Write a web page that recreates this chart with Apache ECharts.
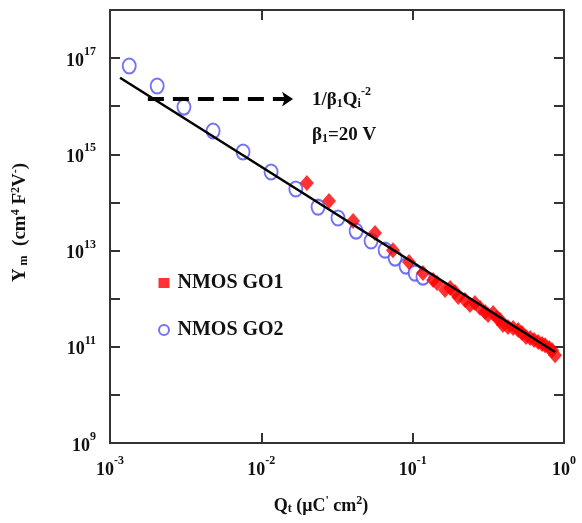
<!DOCTYPE html>
<html><head><meta charset="utf-8">
<script src="https://cdn.jsdelivr.net/npm/echarts@6/dist/echarts.min.js"></script>
<style>html,body{margin:0;padding:0;background:#fff}#c{width:582px;height:523px}</style>
</head><body><div id="c"></div>
<script>
// NMOS GO1 (red diamonds)
const go1Q = [0.0200, 0.0280, 0.0404, 0.0564, 0.0741, 0.0946, 0.117, 0.1365, 0.145, 0.1637, 0.177, 0.1905, 0.200, 0.2218, 0.239, 0.258, 0.279, 0.301, 0.315, 0.340, 0.361, 0.378, 0.395, 0.426, 0.461, 0.498, 0.528, 0.561, 0.597, 0.634, 0.675, 0.716, 0.750, 0.798, 0.834, 0.873];
const go1Y = [2.53e14, 1.07e14, 4.10e13, 2.31e13, 1.02e13, 5.77e12, 3.40e12, 2.44e12, 2.11e12, 1.51e12, 1.66e12, 1.37e12, 1.08e12, 9.35e11, 7.36e11, 8.1e11, 6.38e11, 5.26e11, 4.56e11, 5.02e11, 3.95e11, 3.59e11, 2.83e11, 2.57e11, 2.45e11, 2.22e11, 1.93e11, 1.59e11, 1.52e11, 1.38e11, 1.25e11, 1.14e11, 1.08e11, 9.4e10, 8.5e10, 6.7e10];
// NMOS GO2 (blue open circles)
const go2Q = [1.34e-3, 2.05e-3, 3.08e-3, 4.80e-3, 7.57e-3, 0.0116, 0.0169, 0.0237, 0.0321, 0.0423, 0.0531, 0.0658, 0.0766, 0.0904, 0.1038, 0.117];
const go2Y = [6.85e16, 2.63e16, 9.6e15, 3.05e15, 1.12e15, 4.29e14, 1.90e14, 8.0e13, 4.74e13, 2.54e13, 1.58e13, 1.02e13, 6.98e12, 4.76e12, 3.40e12, 2.81e12];
// fit line 1/(beta1 Qi^2)
const fitQ = [1.165e-3, 0.873];
const fitY = [3.9e16, 7.8e10];
// dashed arrow annotation
const arrowQ = [1.78e-3, 0.0162];
const arrowY = [1.41e16, 1.41e16];
const yLabelExps = [9, 11, 13, 15, 17];
const xLabelExps = [-3, -2, -1, 0];

const F = 'Liberation Serif';
const C = '#111';
const zip = (a, b) => a.map((v, i) => [v, b[i]]);
const supRich = {
  b: {fontSize: 18, fontWeight: 'bold', fontFamily: F, color: C, lineHeight: 24, verticalAlign: 'bottom'},
  s: {fontSize: 12, fontWeight: 'bold', fontFamily: F, color: C, lineHeight: 12, verticalAlign: 'top'}
};
const nameRich = {
  n: {fontSize: 18, fontWeight: 'bold', fontFamily: F, color: C, lineHeight: 20, verticalAlign: 'bottom'},
  sub: {fontSize: 12, fontWeight: 'bold', fontFamily: F, color: C, lineHeight: 15, verticalAlign: 'bottom'},
  sup: {fontSize: 12, fontWeight: 'bold', fontFamily: F, color: C, lineHeight: 15, verticalAlign: 'top'}
};
const expLabel = (v, list) => {
  const e = Math.round(Math.log10(v));
  return list.indexOf(e) >= 0 ? '{b|10}{s|' + e + '}' : '';
};
const axisLine = {show: true, lineStyle: {color: '#333', width: 2}};
const axisTick = {show: true, inside: true, length: 10, lineStyle: {color: '#333', width: 2}};

const chart = echarts.init(document.getElementById('c'), null, {renderer: 'canvas'});
chart.setOption({
  animation: false,
  backgroundColor: '#fff',
  grid: {left: 110, right: 18, top: 10, bottom: 80},
  xAxis: [{
    type: 'log', logBase: 10, min: 0.001, max: 1, interval: 1,
    axisLine, axisTick, splitLine: {show: false}, minorTick: {show: false},
    axisLabel: {margin: 12, formatter: v => expLabel(v, xLabelExps), rich: supRich},
    name: '{n|Q}{sub|t}{n| (μC}{sup|\'}{n| cm}{sup|2}{n|)}',
    nameLocation: 'middle', nameGap: 52,
    nameTextStyle: {padding: [0, 32, 0, 0], rich: nameRich}
  }, {
    type: 'log', logBase: 10, min: 0.001, max: 1, interval: 1, position: 'top',
    axisLine, axisTick, axisLabel: {show: false}, splitLine: {show: false}
  }],
  yAxis: [{
    type: 'log', logBase: 10, min: 1e9, max: 1e18, interval: 1,
    axisLine, axisTick, splitLine: {show: false},
    axisLabel: {margin: 14, formatter: v => expLabel(v, yLabelExps), rich: supRich},
    name: '{n|Y}{sub| m}{n|  (cm}{sup|4}{n| F}{sup|2}{n|V}{sup|-}{n|)}',
    nameLocation: 'middle', nameGap: 80, nameRotate: 90,
    nameTextStyle: {padding: [0, 0, 0, 8], rich: {
      n: Object.assign({}, nameRich.n, {fontSize: 19}),
      sub: nameRich.sub, sup: nameRich.sup
    }}
  }, {
    type: 'log', logBase: 10, min: 1e9, max: 1e18, interval: 1, position: 'right',
    axisLine, axisTick, axisLabel: {show: false}, splitLine: {show: false}
  }],
  legend: {
    orient: 'vertical', left: 153, top: 268, itemGap: 27, itemWidth: 11, itemHeight: 10,
    textStyle: {fontFamily: F, fontWeight: 'bold', fontSize: 20, color: C, padding: [0, 0, 0, 3]},
    data: [
      {name: 'NMOS GO1', icon: 'rect'},
      {name: 'NMOS GO2', icon: 'emptyCircle'}
    ]
  },
  series: [{
    name: 'NMOS GO2', type: 'scatter', symbol: 'emptyCircle', symbolSize: [13, 15],
    itemStyle: {color: '#5050f0', borderColor: '#5050f0', borderWidth: 1.6},
    data: zip(go2Q, go2Y), z: 2
  }, {
    name: 'NMOS GO1', type: 'scatter', symbol: 'diamond', symbolSize: [14, 16],
    itemStyle: {color: '#ff0000'},
    data: zip(go1Q, go1Y), z: 3
  }, {
    name: 'fit', type: 'line', showSymbol: false, symbol: 'none',
    lineStyle: {color: '#000', width: 2.5},
    data: zip(fitQ, fitY), z: 5,
    markLine: {
      silent: true, symbol: ['none', 'arrow'], symbolSize: [11, 11],
      label: {show: false},
      lineStyle: {color: '#000', width: 4, type: [16, 9]},
      data: [[{coord: [arrowQ[0], arrowY[0]]}, {coord: [arrowQ[1], arrowY[1]]}]]
    }
  }],
  graphic: [{
    type: 'text', left: 312, top: 86,
    style: {
      text: '{n|1/β}{sub|1}{n|Q}{sub|i}{sup|-2}',
      rich: {
        n: {fontSize: 19, fontWeight: 'bold', fontFamily: F, fill: C, lineHeight: 24, verticalAlign: 'bottom'},
        sub: {fontSize: 12, fontWeight: 'bold', fontFamily: F, fill: C, lineHeight: 18, verticalAlign: 'bottom'},
        sup: {fontSize: 12, fontWeight: 'bold', fontFamily: F, fill: C, lineHeight: 12, verticalAlign: 'top'}
      }
    }
  }, {
    type: 'text', left: 312, top: 126,
    style: {
      text: '{n|β}{sub|1}{n|=20 V}',
      rich: {
        n: {fontSize: 19, fontWeight: 'bold', fontFamily: F, fill: C, lineHeight: 24, verticalAlign: 'bottom'},
        sub: {fontSize: 12, fontWeight: 'bold', fontFamily: F, fill: C, lineHeight: 18, verticalAlign: 'bottom'}
      }
    }
  }]
});
</script></body></html>
